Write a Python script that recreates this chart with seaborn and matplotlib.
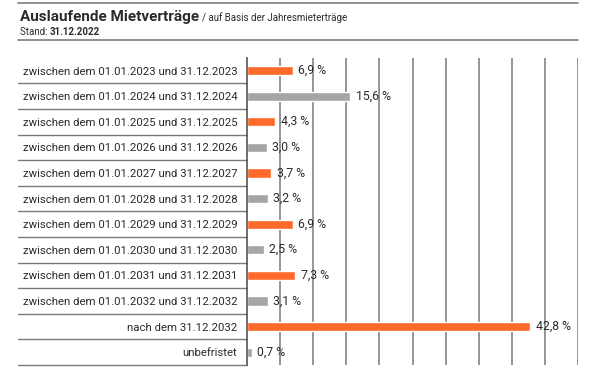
import numpy as np
import matplotlib
matplotlib.use("Agg")
import matplotlib.pyplot as plt
import matplotlib.transforms as mtransforms
import seaborn as sns

# data
labels = [
    "zwischen dem 01.01.2023 und 31.12.2023",
    "zwischen dem 01.01.2024 und 31.12.2024",
    "zwischen dem 01.01.2025 und 31.12.2025",
    "zwischen dem 01.01.2026 und 31.12.2026",
    "zwischen dem 01.01.2027 und 31.12.2027",
    "zwischen dem 01.01.2028 und 31.12.2028",
    "zwischen dem 01.01.2029 und 31.12.2029",
    "zwischen dem 01.01.2030 und 31.12.2030",
    "zwischen dem 01.01.2031 und 31.12.2031",
    "zwischen dem 01.01.2032 und 31.12.2032",
    "nach dem 31.12.2032",
    "unbefristet",
]
values = [6.9, 15.6, 4.3, 3.0, 3.7, 3.2, 6.9, 2.5, 7.3, 3.1, 42.8, 0.7]
orange = "#ff6a2b"
grey = "#a5a5a5"
bar_colors = [orange, grey, orange, grey, orange, grey, orange, grey, orange, grey, orange, grey]

sns.set_theme(style="white")
plt.rcParams["font.family"] = ["Roboto", "DejaVu Sans"]
text_col = "#2b2b2b"
line_col = "#7a7a7a"

fig = plt.figure(figsize=(6, 3.71), dpi=100)
ax = fig.add_axes([247 / 600, 1 - 365 / 371, 331 / 600, (365 - 57.7) / 371])

sns.barplot(x=values, y=labels, hue=labels, palette=bar_colors, legend=False,
            orient="h", width=0.36, ax=ax, saturation=1)

ax.set_xlim(0, 50)
ax.set_ylim(11.5, -0.5)
ax.set_xticks(np.arange(5, 51, 5))
ax.xaxis.grid(True, color="#8c8c8c", linewidth=1.3)
ax.set_axisbelow(True)
ax.tick_params(axis="x", length=0, labelbottom=False)
ax.tick_params(axis="y", length=0, pad=7, labelsize=8.2, labelcolor=text_col)
ax.set_xlabel("")
ax.set_ylabel("")
for s in ["top", "right", "bottom"]:
    ax.spines[s].set_visible(False)
ax.spines["left"].set_color("#555555")
ax.spines["left"].set_linewidth(1.2)

# separators in the label area
trans = mtransforms.blended_transform_factory(ax.transAxes, ax.transData)
x0 = (18 - 247) / 331
for i in range(len(labels)):
    ax.plot([x0, 0], [i + 0.5, i + 0.5], color=line_col, linewidth=1.0,
            transform=trans, clip_on=False)

# value labels
for i, v in enumerate(values):
    ax.text(v + 0.8, i, f"{v:.1f}".replace(".", ",") + " %", va="center", ha="left",
            fontsize=8.8, color=text_col)

# header
fig.add_artist(plt.Line2D([18 / 600, 578 / 600], [1 - 3 / 371, 1 - 3 / 371],
                          color="#888888", linewidth=1.3))
fig.add_artist(plt.Line2D([18 / 600, 578 / 600], [1 - 40 / 371, 1 - 40 / 371],
                          color="#888888", linewidth=1.3))
t = fig.text(20 / 600, 1 - 17 / 371, "Auslaufende Mietverträge", fontsize=11,
             fontweight="bold", color=text_col, va="center", ha="left")
fig.canvas.draw()
bb = t.get_window_extent()
fig.text(bb.x1 / 600 + 0.005, 1 - 18 / 371, "/ auf Basis der Jahresmieterträge",
         fontsize=7, color=text_col, va="center", ha="left")
t2 = fig.text(20 / 600, 1 - 32 / 371, "Stand: ", fontsize=7, color=text_col,
              va="center", ha="left")
fig.canvas.draw()
bb2 = t2.get_window_extent()
fig.text(bb2.x1 / 600, 1 - 32 / 371, "31.12.2022", fontsize=7, fontweight="bold",
         color=text_col, va="center", ha="left")

fig.savefig("out.png", dpi=100)
